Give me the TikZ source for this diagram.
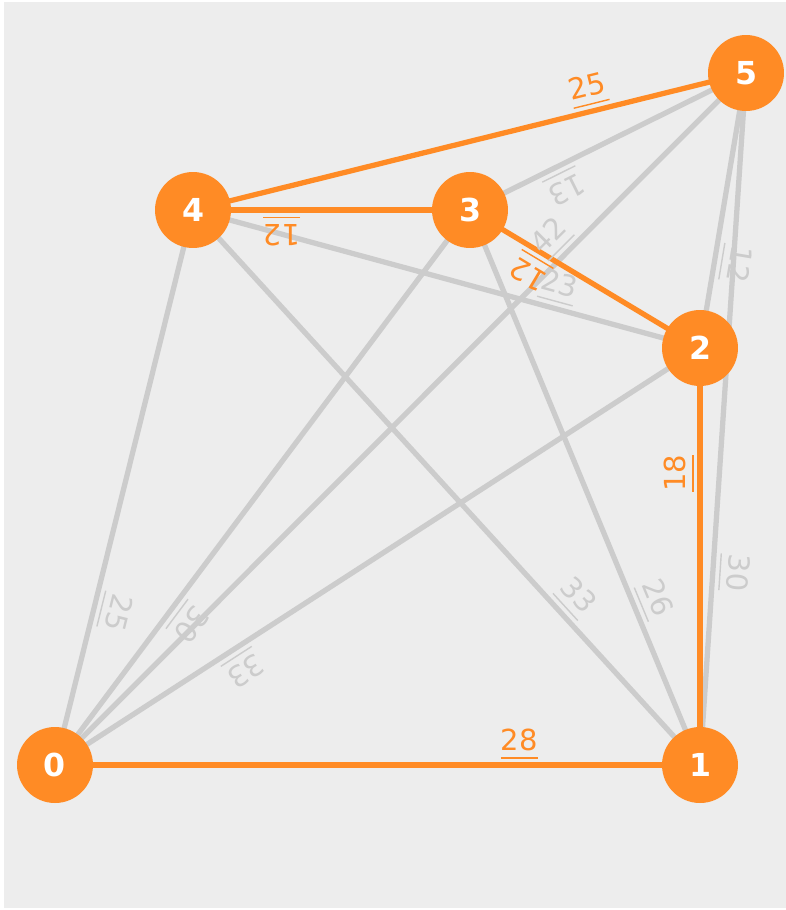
\documentclass[tikz,border=0pt]{standalone}
\usepackage{fontspec}
\setmainfont{DejaVu Sans}
\usepackage{xcolor}
\usepackage{tikz}
\usetikzlibrary{calc}
\definecolor{tangerinecol}{HTML}{FF8B25}
\definecolor{ashcol}{HTML}{CCCCCC}
\definecolor{papercol}{HTML}{EDEDED}
% weight text with a thin rule under it
\newcommand{\ruledw}[1]{\setbox0=\hbox{#1}\usebox0\llap{\rule[-4.8pt]{\wd0}{0.8pt}}}

\begin{document}
\begin{tikzpicture}[x=0.02cm, y=-0.02cm]
  \tikzset{
    vertex/.style={circle, fill=tangerinecol, minimum size=1.52cm, inner sep=0pt,
                   text=white, font=\fontsize{18}{18}\selectfont\bfseries},
    link/.style={line width=3pt},
    weight/.style={sloped, allow upside down, above, inner sep=3.5pt,
                   font=\fontsize{16.5}{16.5}\selectfont}
  }
  \useasboundingbox (0,0) rectangle (786,910);
  \fill[papercol] (4,2) rectangle (786,908);
  % vertex positions
  \foreach \id/\px/\py in {0/55/765, 1/700/765, 2/700/348, 3/470/210, 4/193/210, 5/746/73}
    \coordinate (p\id) at (\px,\py);
  \def\edgelist{
    5/3/13/ashcol/.69, 0/5/42/ashcol/.74, 4/2/23/ashcol/.71, 5/2/12/ashcol/.68,
    5/1/30/ashcol/.72, 3/1/26/ashcol/.716, 4/1/33/ashcol/.724, 4/0/25/ashcol/.715,
    3/0/30/ashcol/.72, 2/0/33/ashcol/.725,
    0/1/28/tangerinecol/.72, 1/2/18/tangerinecol/.70, 2/3/12/tangerinecol/.69,
    3/4/12/tangerinecol/.68, 4/5/25/tangerinecol/.724}
  % edges, grey ones first
  \foreach \s/\t/\w/\col/\at in \edgelist
    \draw[link, draw=\col] (p\s) -- (p\t);
  % weights on top of all edges
  \foreach \s/\t/\w/\col/\at in \edgelist
    \path (p\s) -- node[weight, pos=\at, text=\col] {\ruledw{\w}} (p\t);
  \foreach \id in {0,...,5}
    \node[vertex] (v\id) at (p\id) {\id};
\end{tikzpicture}
\end{document}
